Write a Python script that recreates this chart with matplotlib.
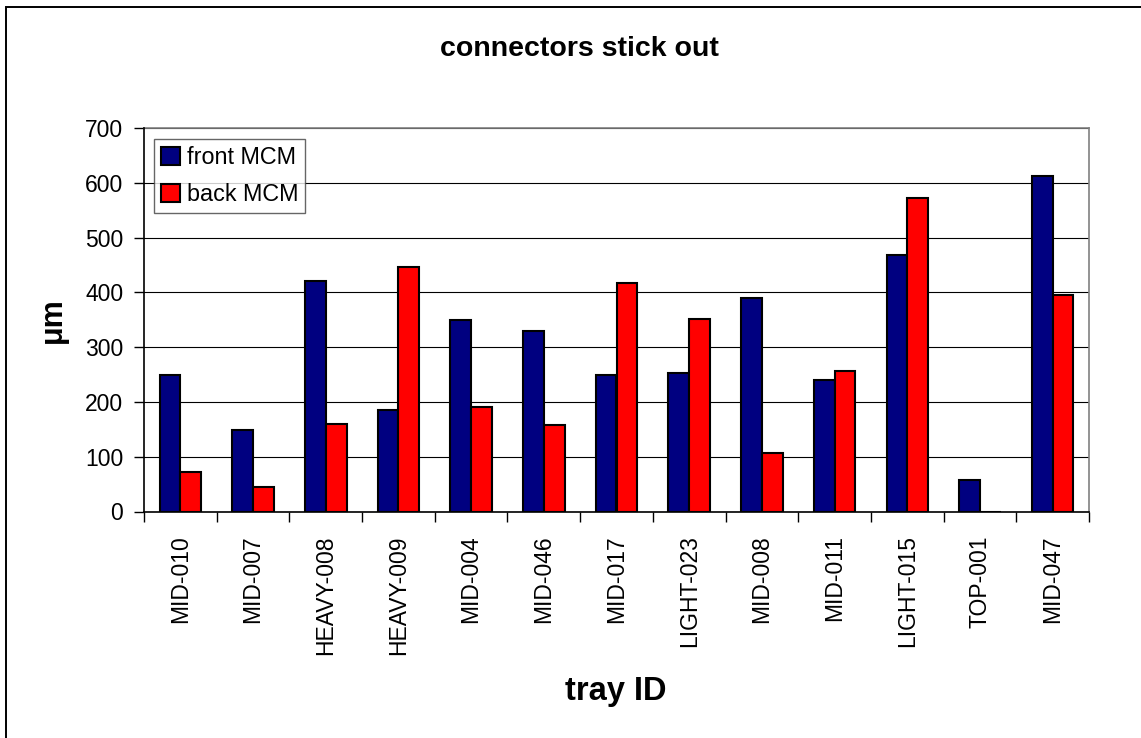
import matplotlib
matplotlib.use("Agg")
import matplotlib.pyplot as plt
import numpy as np
from matplotlib.patches import Rectangle

# tray IDs and stick-out values (um)
trays = ["MID-010", "MID-007", "HEAVY-008", "HEAVY-009", "MID-004", "MID-046",
         "MID-017", "LIGHT-023", "MID-008", "MID-011", "LIGHT-015", "TOP-001",
         "MID-047"]
front_mcm = [250, 148, 420, 185, 350, 329, 249, 253, 390, 240, 468, 58, 612]
back_mcm = [72, 45, 160, 446, 191, 157, 417, 352, 106, 257, 572, 0, 395]

plt.rcParams['font.family'] = ['Liberation Sans', 'DejaVu Sans']

W, H = 1141, 738
fig = plt.figure(figsize=(W / 100, H / 100), dpi=100)
ax = fig.add_axes([144 / W, 1 - 511.5 / H, (1089 - 144) / W, (511.5 - 128) / H])

# outer chart border (right and bottom fall outside the image)
fig.patches.append(Rectangle((6 / W, -0.05), 1.1, 1 - 7 / H + 0.05,
                             transform=fig.transFigure, fill=False,
                             edgecolor='black', linewidth=1.4))

x = np.arange(len(trays))
bw = 1 / 3.5
ax.bar(x - bw / 2, front_mcm, bw, color='#000080', edgecolor='black',
       linewidth=1.5, label='front MCM', zorder=3)
ax.bar(x + bw / 2, back_mcm, bw, color='#FF0000', edgecolor='black',
       linewidth=1.5, label='back MCM', zorder=3)

ax.set_xlim(-0.5, len(trays) - 0.5)
ax.set_ylim(0, 700)
ax.set_yticks(range(0, 701, 100))
ax.yaxis.grid(True, color='black', linewidth=0.8, zorder=0)
ax.set_axisbelow(True)

ax.set_xticks(x)
ax.set_xticklabels(trays, rotation=90, fontsize=16.5)
ax.set_xticks(np.arange(-0.5, len(trays)), minor=True)
ax.tick_params(axis='x', which='major', length=0, pad=17)
ax.tick_params(axis='x', which='minor', length=7, width=1, direction='out')
ax.tick_params(axis='y', labelsize=16.5, length=7, width=1, direction='out', pad=8)

for s in ['top', 'right']:
    ax.spines[s].set_color('#808080')
    ax.spines[s].set_linewidth(1.2)
for s in ['left', 'bottom']:
    ax.spines[s].set_color('black')
    ax.spines[s].set_linewidth(1.2)
    ax.spines[s].set_zorder(4)

leg = ax.legend(loc='upper left', bbox_to_anchor=(0.0106, 0.971), fontsize=16.8,
                frameon=True, fancybox=False, borderaxespad=0,
                handlelength=0.8, handleheight=0.8, handletextpad=0.3,
                borderpad=0.3, labelspacing=0.6)
leg.get_frame().set_edgecolor('#404040')
leg.get_frame().set_linewidth(1.0)

fig.text(579 / W, 1 - 56.5 / H, "connectors stick out", fontsize=20.5,
         fontweight='bold', ha='center', va='baseline')
fig.text(616 / W, 1 - 700 / H, "tray ID", fontsize=23.5, fontweight='bold',
         ha='center', va='baseline')
fig.text(53 / W, 1 - 320 / H, "\u03bcm", fontsize=22, fontweight='bold',
         ha='center', va='center', rotation=90)

fig.savefig("out.png", dpi=100)
